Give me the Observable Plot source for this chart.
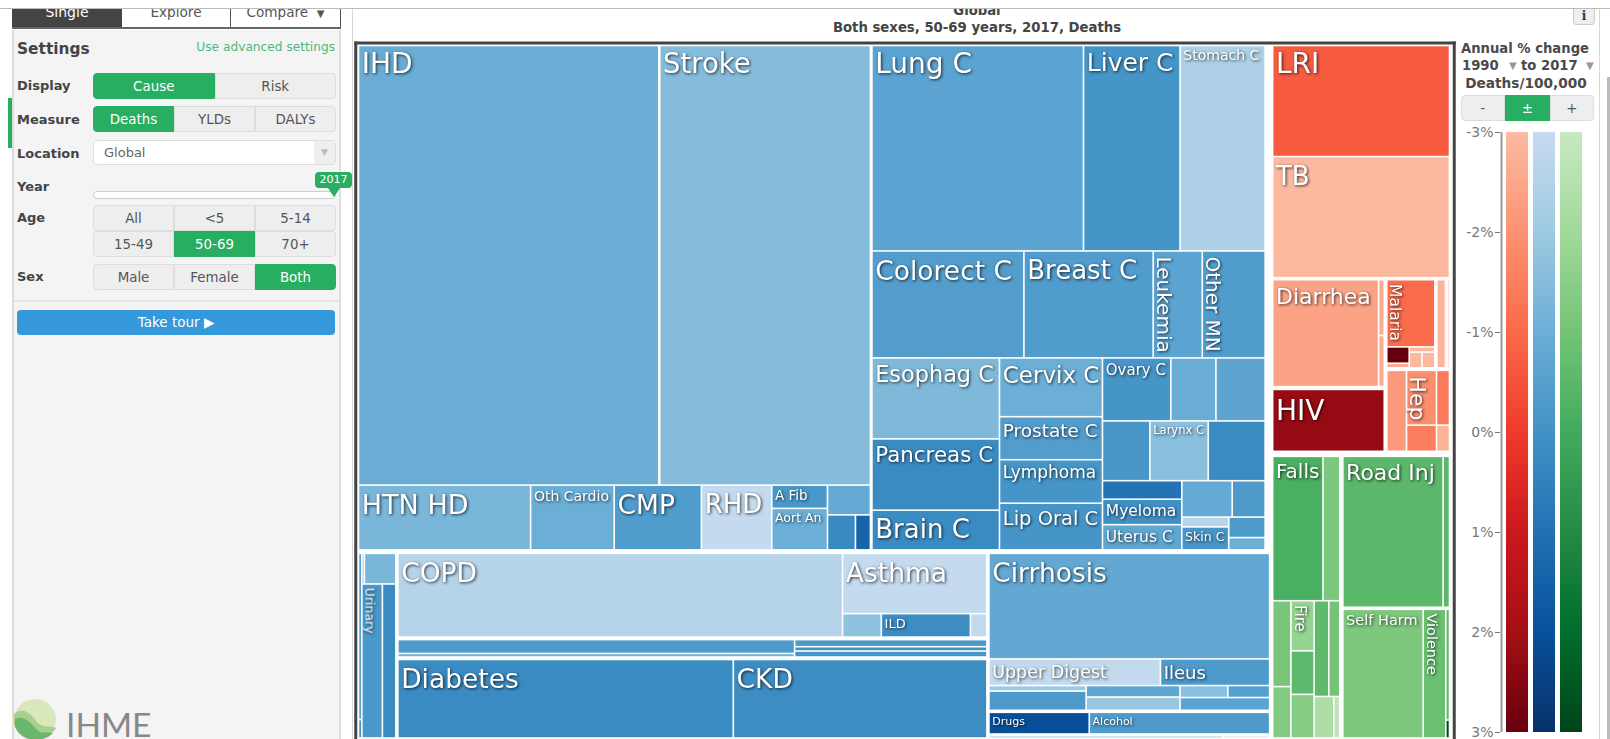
<!DOCTYPE html>
<html>
<head>
<meta charset="utf-8">
<script src="https://cdn.jsdelivr.net/npm/d3@7"></script>
<script src="https://cdn.jsdelivr.net/npm/@observablehq/plot@0.6"></script>
<style>
html,body{margin:0;padding:0;background:#fff}
body{position:relative;width:1610px;height:739px;overflow:hidden;font-family:"DejaVu Sans",sans-serif;color:#444}
.a{position:absolute;box-sizing:border-box;white-space:nowrap}
.seg{display:flex;align-items:center;justify-content:center;font-size:13.4px;color:#555;background:#eee;border:1px solid #ddd}
.on{background:#27ae60;color:#fff;border-color:#27ae60}
.lab{font-weight:bold;font-size:13px;color:#444;left:17px}
#chart,#legend{position:absolute}
#chart svg,#legend svg{display:block;background:transparent}
</style>
</head>
<body>
<div id="shell"></div>
<div id="chart" style="left:350px;top:37px"></div>
<div id="legend" style="left:1460px;top:100px"></div>
<script>
// Cardiovascular causes
const cvdNames = ["IHD","Stroke","HTN HD","Oth Cardio","CMP","RHD","A Fib","Aort An","","",""];
const cvdValues = [132350,92997,11165,5424,5657,4562,1300,2316,1281,980,525];
const cvdChange = [-0.95,-1.5,-1.3,-1,-0.35,-2.95,-0.2,-1,-0.85,0.25,1.4];
const cvdNest = ["v",["h:1",0,1],["h",2,3,4,5,["v",6,7],["v",8,["h",9,10]]]];

// Cancers
const cancerNames = ["Lung C","Liver C","Stomach C","Colorect C","Breast C","Leukemia","Other MN","Esophag C","Pancreas C","Brain C","Cervix C","Prostate C","Lymphoma","Lip Oral C","Ovary C","","","","Larynx C","","","Myeloma","Uterus C","","","","Skin C","",""];
const cancerValues = [43566,19872,17529,16296,13857,5264,6741,10352,9112,5074,6068,4438,4489,4819,4316,2848,3106,2841,3498,3409,1471,2027,2003,1838,1201,461,1081,748,449];
const cancerChange = [-0.6,-0.1,-2.4,-0.4,-0.35,-0.6,-0.35,-1.4,0.2,0.2,-1,-0.4,-0.1,-0.1,-0.1,-0.95,-0.65,-0.15,-1.6,0.2,0.95,0.05,-0.7,-0.85,-0.3,-2.6,-0.15,-0.3,-1];
const cancerNest = ["v",["h",0,1,2],["h",3,4,5,6],["h",["v",7,8,9],["v",10,11,12,13],["v",["h",14,15,16],["h",17,18,19],["h",["v",20,21,22],["v",["h",23,24],["h",["v",25,26],["v",27,28]]]]]]];

// Other non-communicable causes
const otherNames = ["","","","","Urinary","","COPD","Asthma","","ILD","","","","","","","Diabetes","CKD","Cirrhosis","Upper Digest","Ileus","","","","","","","","Drugs","Alcohol","",""];
const otherValues = [586,65,83,1020,3350,2200,38140,8916,931,2141,396,6240,1620,1553,947,1311,27020,20431,30033,4635,2951,547,1895,1094,1264,581,508,1161,2379,4276,940,188];
const otherChange = [-0.5,0,-2,-1.3,-0.2,0.2,-2.6,-2.95,-1.7,0.15,-2.9,-0.3,-1.2,-0.25,0,-0.1,0.2,0.15,-0.8,-2.9,-0.3,-2,-0.3,-0.7,-1.9,-1.6,-0.45,-0.6,2.05,-0.3,0.2,-1.6];
const otherNest = ["h:2",["h",["v",0,1],["v",["h",2,3],["h",4,5]]],["v:2.5",["h",6,["v",7,["h",8,9,10]]],["h",["v",11,12],["v",13,14,15]],["h",16,17]],["v:2",["v",18,["h",19,20],["h",["v",21,22],["v",23,24],["v",["h",25,26],27]]],["h",28,29],["h",30,31]]];

// Communicable, maternal, neonatal, nutritional causes
const commNames = ["LRI","TB","Diarrhea","","","HIV","Malaria","","","","","","","","","Hep","","",""];
const commValues = [19950,21760,11749,326,299,7300,3454,392,111,143,214,218,958,365,1697,1744,835,755,362];
const commChange = [-0.7,-2.95,-2.4,-2.6,-2.6,2.25,-1.05,3,-2.6,-2.95,-2.95,-2.95,-2.85,-2.85,-2.2,-1.9,-1.5,-1.4,-2.8];
const commNest = ["v:2",["v",0,1],["h:2.5",["v:2.8",["h",2,["v",3,4]],5],["v:2.5",["h:2",["v",6,["h",["v",7,8],["v",9,["h",10,11]]]],12,13],["h",14,["v",15,16],["v",17,18]]]]];

// Injuries
const injNames = ["Falls","","","","Fire","","","","","","","Road Inj","","Self Harm","Violence","",""];
const injValues = [7595,2541,1636,979,1216,1058,1060,1469,1104,853,262,15661,1003,10726,3021,426,69];
const injChange = [-0.15,-1.15,-1.1,-1.3,-1.7,-0.55,-1.4,-0.6,-1,-2.3,-2.8,-0.5,-0.5,-1.2,-0.8,-0.5,2.9];
const injNest = ["h:3",["v",["h",0,1],["h",["v",2,3],["v",4,5,6],["v",["h",7,8],["h",9,10]]]],["v:2",["h",11,12],["h",13,14,["v",15,16]]]];

// Legend
const legendTicks = [-3,-2,-1,0,1,2,3];
const families = ["comm","ncd","inj"];
const rampStops = {
  comm:["#fcbba1","#fc9272","#fb6a4a","#ef3b2c","#cb181d","#a50f15","#67000d"],
  ncd:["#c6dbef","#9ecae1","#6baed6","#4292c6","#2171b5","#08519c","#08306b"],
  inj:["#c7e9c0","#a1d99b","#74c476","#41ab5d","#238b45","#006d2c","#00441b"]
};
const ramp = f => d3.scaleLinear().domain(legendTicks).range(rampStops[f]).clamp(true);

// Label type sizes
const labelSize = {"IHD":28,"Stroke":27.5,"HTN HD":27,"Oth Cardio":14,"CMP":26.5,"RHD":26,"A Fib":13.5,"Aort An":12.5,
"Lung C":28,"Liver C":25,"Stomach C":14,"Colorect C":26.5,"Breast C":26,"Leukemia":20,"Other MN":20,"Esophag C":22.4,"Pancreas C":21.4,"Brain C":26,
"Cervix C":23,"Prostate C":18.5,"Lymphoma":17,"Lip Oral C":19.5,"Ovary C":15,"Larynx C":11.5,"Myeloma":15.5,"Uterus C":15.5,"Skin C":12.5,
"Urinary":12.5,"COPD":26.5,"Asthma":26.5,"ILD":13,"Diabetes":26.5,"CKD":26.5,"Cirrhosis":26.5,"Upper Digest":17.5,"Ileus":18,"Drugs":11,"Alcohol":11,
"LRI":28,"TB":26,"Diarrhea":22,"HIV":28,"Malaria":15.5,"Hep":22,"Falls":20,"Fire":15,"Road Inj":22,"Self Harm":14.5,"Violence":14.5};
const rotated = new Set(["Leukemia","Other MN","Urinary","Malaria","Hep","Fire","Violence"]);

function build(spec, fam, names, values, change) {
  if (typeof spec === "number") return {name:names[spec], value:values[spec], change:change[spec], fam};
  const [d, pad] = spec[0].split(":");
  return {d, pad:+pad||0, c:spec.slice(1).map(s => build(s, fam, names, values, change))};
}
const tree = {d:"h", pad:3, c:[
  {d:"v", pad:3.5, c:[
    {d:"h", pad:1.5, padR:4.5, c:[
      build(cvdNest,"ncd",cvdNames,cvdValues,cvdChange),
      build(cancerNest,"ncd",cancerNames,cancerValues,cancerChange)]},
    build(otherNest,"ncd",otherNames,otherValues,otherChange)]},
  {d:"v", pad:5, c:[
    build(commNest,"comm",commNames,commValues,commChange),
    build(injNest,"inj",injNames,injValues,injChange)]}
]};

const W = 1098.5, H = 696.5;
const layoutRoot = d3.treemap()
  .size([W,H])
  .tile((n,x0,y0,x1,y1) => (n.data.d==="h" ? d3.treemapDice : d3.treemapSlice)(n,x0,y0,x1,y1))
  .paddingInner(n => n.data.pad||0)
  .paddingLeft(n => n.depth ? 0 : 3.25)
  .paddingRight(n => n.depth ? (n.data.padR||0) : 4.25)
  .paddingTop(n => n.depth ? 0 : 3)
  .paddingBottom(n => n.depth ? 0 : 1)
  (d3.hierarchy(tree, d => d.c).sum(d => d.value||0));

const ramps = Object.fromEntries(families.map(f => [f, ramp(f)]));
const leaves = layoutRoot.leaves().map(n => ({
  name:n.data.name, change:n.data.change, fam:n.data.fam,
  x0:n.x0, x1:n.x1, y0:n.y0, y1:n.y1,
  size:labelSize[n.data.name]||0
}));
const labelled = leaves.filter(d => d.name);
const flat = labelled.filter(d => !rotated.has(d.name));
const turned = labelled.filter(d => rotated.has(d.name));
const shadow = "drop-shadow(1px 1px 1.4px rgba(0,0,0,.75))";

const chart = Plot.plot({
  width:1110, height:702,
  marginLeft:5.25, marginTop:5.5, marginRight:6.25, marginBottom:0,
  x:{domain:[0,W], axis:null},
  y:{domain:[0,H], reverse:true, axis:null},
  style:{fontFamily:"DejaVu Sans", background:"transparent", overflow:"visible"},
  marks:[
    Plot.rect(leaves,{x1:"x0",x2:"x1",y1:"y0",y2:"y1",inset:0.8,fill:d => ramps[d.fam](d.change)}),
    Plot.text(flat,{x:d => d.x0+2.8,y:d => d.y0+0.6+d.size*(d.y0 > 10 ? 0.33 : 0.25),text:"name",fontSize:"size",textAnchor:"start",lineAnchor:"top",fill:"white",imageFilter:shadow}),
    Plot.text(turned,{x:d => d.x0+3.2,y:d => d.y0+d.size*0.25,text:"name",fontSize:"size",rotate:90,textAnchor:"start",lineAnchor:"bottom",fill:"white",imageFilter:shadow}),
    Plot.frame({anchor:"top",stroke:"#444",strokeWidth:3}),
    Plot.frame({anchor:"left",stroke:"#444",strokeWidth:3}),
    Plot.frame({anchor:"right",stroke:"#444",strokeWidth:3})
  ]
});
document.getElementById("chart").append(chart);

const steps = families.flatMap(f => d3.range(-3,3,0.02).map(v => ({f, a:v, b:v+0.02, fill:ramps[f](v+0.01)})));
const legend = Plot.plot({
  width:150, height:639,
  marginLeft:40, marginTop:32, marginRight:24, marginBottom:7,
  x:{type:"band",domain:families,range:[42.2,125.6],paddingInner:0.2,paddingOuter:0.1,axis:null},
  y:{domain:[3,-3],axis:null},
  style:{fontFamily:"DejaVu Sans",background:"transparent",overflow:"visible"},
  marks:[
    Plot.barY(steps,{x:"f",y1:"a",y2:"b",fill:"fill",shapeRendering:"crispEdges"}),
    Plot.axisY({ticks:legendTicks,tickFormat:d => d+"%",tickSize:5,tickPadding:2,fontSize:14,color:"#777"}),
    Plot.ruleX(["comm"],{x:d => d,y1:-3,y2:3,dx:-16,stroke:"#999",strokeWidth:2})
  ]
});
document.getElementById("legend").append(legend);

// Application chrome around the chart
function box(x,y,w,h,css,html){return `<div class="a" style="left:${x}px;top:${y}px;width:${w}px;height:${h}px;${css||""}">${html||""}</div>`;}
function segs(x,y,w,h,labels,active,extra){
  const n=labels.length, bw=w/n;
  return labels.map((l,i)=>{
    const r=(i===0?"border-top-left-radius:4px;border-bottom-left-radius:4px;":"")+(i===n-1?"border-top-right-radius:4px;border-bottom-right-radius:4px;":"");
    return `<div class="a seg ${i===active?"on":""}" style="left:${x+i*bw}px;top:${y}px;width:${bw}px;height:${h}px;${r}${extra||""}">${l}</div>`;
  }).join("");
}
let s = "";
s += box(12,30,329,709,"background:#f4f4f4;border-left:2px solid #ddd;border-right:2px solid #ddd");
s += box(14,300,325,2,"background:#e4e4e4");
s += box(352,9,1,730,"background:#d8d8d8");
s += box(1599,9,1,730,"background:#d8d8d8");
s += box(1607,77,3,662,"background:#bbb");
s += box(8,98,4,50,"background:#27ae60");
// tabs
s += box(12,9,110,18.5,"background:#444;color:#fff;font-size:14px;text-align:center;line-height:7px","Single");
s += box(122,9,109,18.5,"font-size:13.6px;color:#555;text-align:center;line-height:7px;border-right:1px solid #555","Explore");
s += box(231,9,110,18.5,"font-size:13.6px;color:#555;text-align:center;line-height:7px;border-right:1px solid #555","Compare &nbsp;<span style='font-size:10px'>▼</span>");
s += box(12,27,329,1.5,"background:#666");
// settings
s += box(17,39,120,20,"font-weight:bold;font-size:15.4px;line-height:20px;color:#444","Settings");
s += box(180,38,155,18,"font-size:12.2px;line-height:18px;color:#4cb97e;text-align:right","Use advanced settings");
[["Display",77],["Measure",111],["Location",145],["Year",178],["Age",209],["Sex",268]].forEach(([t,y]) => {
  s += `<div class="a lab" style="top:${y}px;line-height:18px">${t}</div>`;
});
s += segs(93,73,243,26,["Cause","Risk"],0);
s += segs(93,106,243,26,["Deaths","YLDs","DALYs"],0);
s += box(93,140,243,25,"background:#fff;border:1px solid #ddd;border-radius:4px;font-size:13px;color:#666;line-height:23px;padding-left:10px","Global");
s += box(314,141,21,23,"background:#eee;color:#bbb;font-size:9px;text-align:center;line-height:23px","▼");
s += box(93,191,243,8,"background:#fff;border:1px solid #ccc;border-radius:4px");
s += box(315,172,37,16,"background:#27ae60;color:#fff;font-size:11px;text-align:center;line-height:16px;border-radius:4px","2017");
s += `<div class="a" style="left:328px;top:188px;width:0;height:0;border-left:6px solid transparent;border-right:6px solid transparent;border-top:9px solid #27ae60"></div>`;
s += segs(93,205,243,26,["All","&lt;5","5-14"],-1);
s += segs(93,231,243,26,["15-49","50-69","70+"],1);
s += segs(93,264,243,26,["Male","Female","Both"],2);
s += box(17,310,318,25,"background:#3498db;color:#fff;border-radius:4px;font-size:13.5px;text-align:center;line-height:25px","Take tour ▶");
// logo
s += `<svg class="a" style="left:12px;top:695px" width="50" height="44" viewBox="0 0 50 44">
<circle cx="23" cy="25" r="21" fill="#d8e8b8"/>
<path d="M2 19 C10 12 18 17 24 26 C30 34 38 30 44 33 C40 44 10 46 2 30Z" fill="#a5d08e"/>
<path d="M3 24 C10 20 18 26 24 34 C30 40 36 36 41 38 C32 48 10 48 3 32Z" fill="#69b86d"/></svg>`;
s += box(66,711,90,26,"font-family:Lato;font-size:33.5px;line-height:26px;color:#888","IHME");
// title
s += box(700,1,554,20,"font-weight:bold;font-size:13.2px;line-height:20px;color:#444;text-align:center","Global");
s += box(700,19,554,18,"font-weight:bold;font-size:13.25px;line-height:18px;color:#444;text-align:center","Both sexes, 50-69 years, 2017, Deaths");
s += box(1573,9,22,16,"background:#eee;border:1px solid #ccc;border-top:none;border-radius:0 0 4px 4px;text-align:center;font-weight:bold;font-family:'DejaVu Serif';font-size:12px;line-height:15px;color:#333","i");
// legend heading
s += box(1453,40,144,18,"font-weight:bold;font-size:13.2px;line-height:18px;color:#4a4a4a;text-align:center","Annual % change");
s += box(1455,57,144,18,"font-weight:bold;font-size:13.2px;line-height:18px;color:#4a4a4a","<span style='position:absolute;left:7px'>1990</span><span style='position:absolute;left:54px;font-size:10px;color:#999'>▼</span><span style='position:absolute;left:66px'>to 2017</span><span style='position:absolute;left:131px;font-size:10px;color:#999'>▼</span>");
s += box(1454,74,144,18,"font-weight:bold;font-size:13.7px;line-height:18px;color:#4a4a4a;text-align:center","Deaths/100,000");
s += segs(1460.5,95,133.5,26,["-","±","+"],1);
// top rule clips what runs above it
s += box(0,0,1610,9,"background:#fff;border-bottom:1px solid #bbb;z-index:5");
document.getElementById("shell").innerHTML = s;
</script>
</body>
</html>
